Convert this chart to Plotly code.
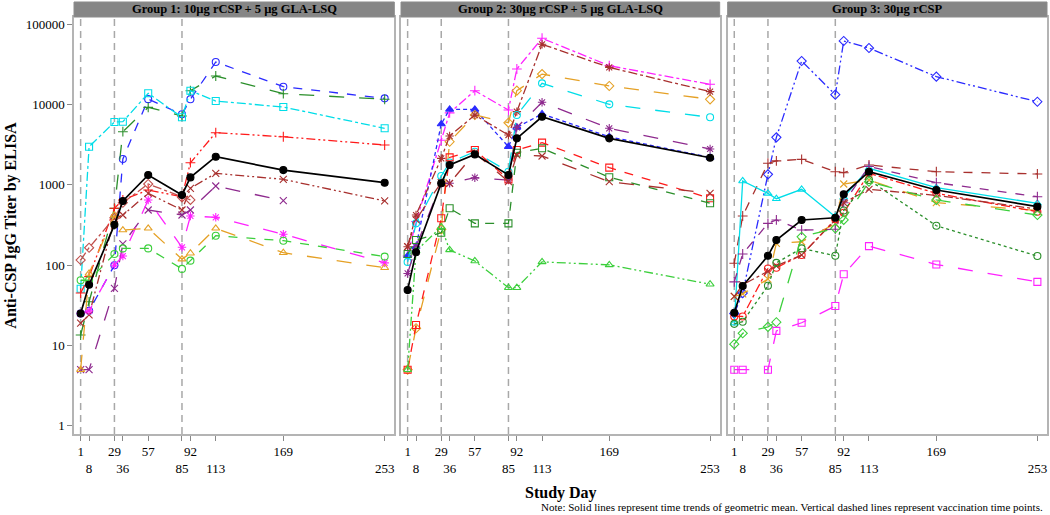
import plotly.graph_objects as go

# ---------------- data ----------------
days = [1, 8, 29, 36, 57, 85, 92, 113, 169, 253]
vacc_days = [1, 29, 85]
tick_labels = ["1", "\u00a0<br>8", "29", "\u00a0<br>36", "57", "\u00a0<br>85", "92", "\u00a0<br>113", "169", "\u00a0<br>253"]
y_tick_vals = [1, 10, 100, 1000, 10000, 100000]
y_tick_text = ["1", "10", "100", "1000", "10000", "100000"]
group_titles = ["Group 1: 10µg rCSP + 5 µg GLA-LSQ",
                "Group 2: 30µg rCSP + 5 µg GLA-LSQ",
                "Group 3: 30µg rCSP"]

# Group 1
g1_blue = [25, 27, 100, 2100, 11700, 7570, 11640, 33950, 16700, 11970]
g1_green = [13.5, 35, 510, 4600, 9250, 7210, 14900, 22700, 13680, 11640]
g1_cyan = [51, 2990, 6070, 6120, 13830, 6950, 14900, 11080, 9330, 5070]
g1_red = [45, 72, 511, 650, 865, 713, 1890, 4470, 3980, 3140]
g1_brown = [19, 24, 384, 422, 785, 487, 908, 1394, 1174, 631]
g1_indian = [116, 165, 390, 600, 1026, 701, 650, None, None, None]
g1_purple = [5, 5, 51.5, 184, 487, 422, 487, 969, 636, None]
g1_magenta = [25, 27, 100, 130, 650, 167, 410, 395, 243, 107]
g1_orange = [5, 79, 420, 274, 288, 119, 141, 288, 143, 93]
g1_lime = [65, 65, 138, 162, 162, 90, 114, 233, 202, 128]
g1_mean = [25, 57, 318, 631, 1330, 750, 1240, 2245, 1530, 1066]

# Group 2
g2_magenta = [130, 350, 3600, 7900, 14900, 8570, 27750, 67000, 30500, 17900]
g2_blue = [131, 170, 5730, 8730, 8730, 2990, 5210, 7640, 3980, 2200]
g2_orange = [5, 16.4, 280, 3450, 7420, 5950, 14900, 24000, 17060, 11640]
g2_brown_ast = [170, 422, 2140, 4060, 7400, 4180, 8170, 56400, 29100, 14500]
g2_cyan = [110, 332, 1290, 1900, 2590, 1460, 7420, 18400, 10080, 6950]
g2_purple = [79, 170, 1047, 1047, 1230, 1150, 5200, 10690, 5070, 2800]
g2_red = [5, 18, 384, 2200, 2720, 1170, 2720, 3360, 1640, 681]
g2_green = [138, 206, 254, 511, 332, 332, 2520, 2860, 1245, 590]
g2_lime = [5, 150, 300, 155, 113, 52.5, 52.5, 110, 101, 58]
g2_brown_x = [170, 370, 1066, 1047, 2500, 1100, 2360, 2290, 1096, 786]
g2_mean = [49, 145, 1050, 1770, 2400, 1330, 3800, 7060, 3800, 2180]

# Group 3
g3_blue = [25, 45, 1355, 3910, 34900, 13300, 62000, 50700, 22300, 10860]
g3_brown_plus = [106, 410, 1860, 1990, 2080, 1460, 1420, 1770, 1460, 1370]
g3_cyan = [19, 1120, 785, 673, 881, 402, 700, 1610, 923, 590]
g3_purple = [62, 138, 332, 366, 274, 280, 600, 1700, 1066, 713]
g3_orange = [41, 44, 67, 187, 196, 330, 1026, 1150, 600, 480]
g3_red = [23, 23, 91, 93, 134, 373, 451, 1394, 785, 464]
g3_brown_x = [41, 57, 84, 98, 134, 366, 600, 881, 740, 500]
g3_green = [18.6, 19.8, 55.6, 107, 162, 131, 480, 1150, 310, 130]
g3_lime = [10.4, 14.2, 17.1, 19.5, 226, 288, 366, 1096, 650, 422]
g3_magenta = [5, 5, 5, 15.2, 19.2, 31, 77, 173, 102, 62]
g3_mean = [25.6, 55, 131, 206, 366, 390, 763, 1460, 865, 536]

# ---------------- styles ----------------
BLUE, GREEN, CYAN, RED = "#2a2aff", "#2b8f2b", "#00dde8", "#ff1a1a"
BROWN, INDIAN, PURPLE = "#a8302e", "#c0504d", "#8e2a8e"
MAGENTA, ORANGE, LIME = "#ff22ff", "#e5a126", "#3ccf3c"
DDOT = "9px,3px,2px,3px,2px,3px"

panels = [
    [(g1_blue, BLUE, "circle-open", "dash"),
     (g1_green, GREEN, "cross-thin", "longdash"),
     (g1_cyan, CYAN, "square-open", "dashdot"),
     (g1_red, RED, "cross-thin", DDOT),
     (g1_brown, BROWN, "x-thin", DDOT),
     (g1_indian, INDIAN, "diamond-open", "dashdot"),
     (g1_purple, PURPLE, "x-thin", "longdash"),
     (g1_magenta, MAGENTA, "asterisk", "longdash"),
     (g1_orange, ORANGE, "triangle-up-open", "longdash"),
     (g1_lime, LIME, "circle-open", "dash"),
     (g1_mean, "black", "circle", "solid")],
    [(g2_magenta, MAGENTA, "cross-thin", "dashdot"),
     (g2_blue, BLUE, "triangle-up", "4px,3px"),
     (g2_orange, ORANGE, "diamond-open", "longdash"),
     (g2_brown_ast, BROWN, "asterisk", "dashdot"),
     (g2_cyan, CYAN, "circle-open", "longdash"),
     (g2_purple, PURPLE, "asterisk", "longdash"),
     (g2_red, RED, "square-open", "dash"),
     (g2_green, GREEN, "square-open", "dash"),
     (g2_lime, LIME, "triangle-up-open", DDOT),
     (g2_brown_x, BROWN, "x-thin", "longdash"),
     (g2_mean, "black", "circle", "solid")],
    [(g3_blue, BLUE, "diamond-open", DDOT),
     (g3_brown_plus, BROWN, "cross-thin", "dash"),
     (g3_cyan, CYAN, "triangle-up-open", "solid"),
     (g3_purple, PURPLE, "cross-thin", "dash"),
     (g3_orange, ORANGE, "x-thin", "longdash"),
     (g3_red, RED, "circle-open", "dashdot"),
     (g3_brown_x, BROWN, "x-thin", "dashdot"),
     (g3_green, GREEN, "circle-open", "3px,3px"),
     (g3_lime, LIME, "diamond-open", "longdash"),
     (g3_magenta, MAGENTA, "square-open", "longdash"),
     (g3_mean, "black", "circle", "solid")],
]

FONT = "Liberation Serif"
fig = go.Figure()

for p, series in enumerate(panels):
    xa = "x" if p == 0 else f"x{p+1}"
    ya = "y" if p == 0 else f"y{p+1}"
    for vals, col, sym, dash in series:
        is_mean = col == "black"
        fig.add_trace(go.Scatter(
            x=days, y=vals, xaxis=xa, yaxis=ya, mode="lines+markers",
            connectgaps=False, showlegend=False,
            line=dict(color=col, width=1.7 if is_mean else 1.3, dash=dash),
            marker=dict(symbol=sym, size=7, color=col,
                        line=dict(color=col, width=1.1))))

domains = [[0.0, 0.3292], [0.3361, 0.6636], [0.6718, 1.0]]
FRAME = "#b4b4b4"
layout = dict(
    width=1050, height=515,
    margin=dict(l=74, r=1, t=17, b=81),
    paper_bgcolor="white", plot_bgcolor="white",
    font=dict(family=FONT, size=13, color="black"),
    showlegend=False,
)
for p in range(3):
    sx = "" if p == 0 else str(p + 1)
    layout["xaxis" + sx] = dict(
        domain=domains[p], range=[-4.5, 261], anchor="y" + sx,
        tickvals=days, ticktext=tick_labels, ticks="outside", ticklen=5,
        tickangle=0,
        tickcolor="#888888", showline=True, mirror=True, linecolor=FRAME,
        linewidth=1.5, showgrid=False, zeroline=False,
        tickfont=dict(family=FONT, size=13, color="black"))
    ydict = dict(
        type="log", range=[-0.102, 5.091], anchor="x" + sx,
        showline=True, mirror=True, linecolor=FRAME, linewidth=1.5,
        showgrid=False, zeroline=False)
    if p == 0:
        ydict.update(tickvals=y_tick_vals, ticktext=y_tick_text, ticks="outside",
                     ticklen=5, tickcolor="#888888",
                     tickfont=dict(family=FONT, size=13, color="black"))
    else:
        ydict.update(matches="y", showticklabels=False, ticks="")
    layout["yaxis" + sx] = ydict

fig.update_layout(**layout)

shapes = []
annotations = []
for p in range(3):
    sx = "" if p == 0 else str(p + 1)
    for d in vacc_days:
        shapes.append(dict(type="line", xref="x" + sx, yref="y" + sx + " domain",
                           x0=d, x1=d, y0=0, y1=1,
                           line=dict(color="#a8a8a8", width=1.5, dash="7px,5px"), layer="below"))
    xd = ("x" + sx) + " domain"
    shapes.append(dict(type="rect", xref=xd, yref="paper", x0=0, x1=1, y0=1.0, y1=1.036,
                       fillcolor="#868686", line=dict(color="#8c8c8c", width=1)))
    annotations.append(dict(xref=xd, yref="paper", x=0.5, y=1.018, text="<b>" + group_titles[p] + "</b>",
                            showarrow=False, xanchor="center", yanchor="middle",
                            font=dict(family=FONT, size=12.5, color="black")))

annotations.append(dict(xref="paper", yref="paper", x=-0.0656, y=0.5,
                        text="<b>Anti-CSP IgG Titer by ELISA</b>", textangle=-90,
                        showarrow=False, xanchor="center", yanchor="middle",
                        font=dict(family=FONT, size=16, color="black")))
annotations.append(dict(xref="paper", yref="paper", x=0.5, y=-0.1415,
                        text="<b>Study Day</b>", showarrow=False,
                        xanchor="center", yanchor="middle",
                        font=dict(family=FONT, size=16, color="black")))
annotations.append(dict(xref="paper", yref="paper", x=0.998, y=-0.175,
                        text="Note: Solid lines represent time trends of geometric mean. Vertical dashed lines represent vaccination time points.",
                        showarrow=False, xanchor="right", yanchor="middle",
                        font=dict(family=FONT, size=11, color="black")))
fig.update_layout(shapes=shapes, annotations=annotations)

fig.write_html("out.html", config={"displayModeBar": False},
               post_script="document.body.style.margin='0';document.body.style.overflow='hidden';")
